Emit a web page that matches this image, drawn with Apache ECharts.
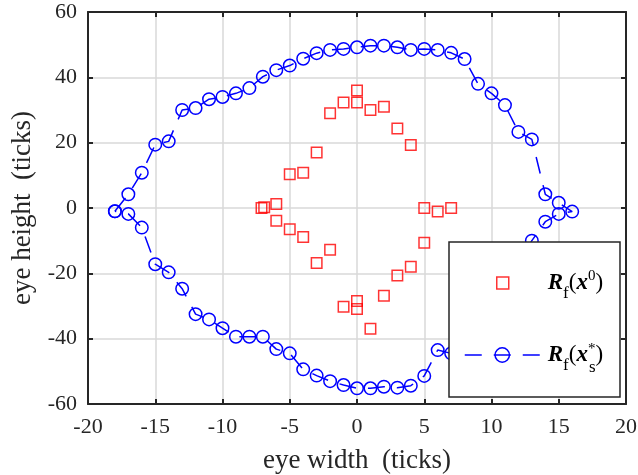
<!DOCTYPE html>
<html>
<head>
<meta charset="utf-8">
<script src="https://cdn.jsdelivr.net/npm/echarts@6/dist/echarts.min.js"></script>
<style>
html, body { margin: 0; padding: 0; background: #fff; }
#main { width: 638px; height: 475px; }
</style>
</head>
<body>
<div id="main"></div>
<script>
// eye contour R_f(x_s*): upper edge left -> right, then lower edge right -> left
var topX = [-18,-17,-16,-15,-14,-13,-12,-11,-10,-9,-8,-7,-6,-5,-4,-3,-2,-1,0,1,2,3,4,5,6,7,8,9,10,11,12,13,14,15,16];
var topY = [-1,4.2,10.8,19.4,20.4,30,30.6,33.3,34,35.1,36.7,40.2,42.2,43.6,45.7,47.4,48.4,48.7,49.2,49.7,49.7,49.2,48.4,48.7,48.4,47.5,45.6,38,35.1,31.5,23.3,21,4.2,1.6,-1.1];
var botX = [15,14,13,12,11,10,9,8,7,6,5,4,3,2,1,0,-1,-2,-3,-4,-5,-6,-7,-8,-9,-10,-11,-12,-13,-14,-15,-16,-17,-18];
var botY = [-1.8,-4.2,-10,-17,-24,-31,-36,-40,-44.5,-43.5,-51.4,-54.4,-55,-54.7,-55.2,-55.2,-54.2,-53,-51.3,-49.4,-44.5,-43.2,-39.4,-39.4,-39.4,-36.8,-34.1,-32.5,-24.7,-19.7,-17.2,-6,-1.8,-1];

// initial points R_f(x^0)
var sqX = [0,-1,0,-2,1,2,3,4,-3,-4,-5,-7.1,-6.9,-6,-6,-5,-4,-2,-3,-1,0,0,1,2,3,4,5,5,6,7];
var sqY = [36,32.3,32.3,29,30,31,24.3,19.3,17,10.8,10.3,0,0.2,1.2,-3.9,-6.5,-8.9,-12.8,-16.8,-30.2,-28.5,-30.9,-37,-26.9,-20.7,-18,-10.6,0,-1.1,0];

var xTicks = { min: -20, max: 20, step: 5 };
var yTicks = { min: -60, max: 60, step: 20 };

var serif = '"Liberation Serif", "Times New Roman", serif';
var dark = '#262626';

var eye = [];
for (var i = 0; i < topX.length; i++) eye.push([topX[i], topY[i]]);
for (var j = 0; j < botX.length; j++) eye.push([botX[j], botY[j]]);
var sq = [];
for (var k = 0; k < sqX.length; k++) sq.push([sqX[k], sqY[k]]);

function legendRich(lead) {
    return {
        R: { fontFamily: serif, fontSize: 23, fontWeight: 'bold', fontStyle: 'italic', color: '#000', lineHeight: 42, padding: [0, 0, 0, lead] },
        x: { fontFamily: serif, fontSize: 23, fontWeight: 'bold', fontStyle: 'italic', color: '#000', lineHeight: 42 },
        p: { fontFamily: serif, fontSize: 23, color: '#000', lineHeight: 42 },
        f: { fontFamily: serif, fontSize: 17, color: '#000', padding: [22, 0, 0, 0] },
        sup: { fontFamily: serif, fontSize: 15, color: '#000', padding: [0, 0, 13, 0] },
        star: { fontFamily: serif, fontSize: 15, color: '#000', padding: [0, 0, 11, 0], width: 1 },
        s: { fontFamily: serif, fontSize: 17, color: '#000', padding: [25, 0, 0, 0] }
    };
}

function mainAxis(t, name, gap, rot) {
    return {
        type: 'value', min: t.min, max: t.max, interval: t.step,
        name: name, nameLocation: 'middle', nameGap: gap, nameRotate: rot,
        nameTextStyle: { fontFamily: serif, fontSize: 27, color: dark },
        axisLine: { show: true, onZero: false, lineStyle: { color: dark, width: 2 } },
        axisTick: { show: true, inside: true, length: 5, lineStyle: { color: dark, width: 2 } },
        axisLabel: { fontFamily: serif, fontSize: 22, color: dark, margin: rot ? 11 : 12 },
        splitLine: { show: true, lineStyle: { color: '#d9d9d9', width: 1.5 } }
    };
}
function boxAxis(t, pos) {
    return {
        type: 'value', min: t.min, max: t.max, interval: t.step, position: pos,
        axisLine: { show: true, onZero: false, lineStyle: { color: dark, width: 2 } },
        axisTick: { show: true, inside: true, length: 5, lineStyle: { color: dark, width: 2 } },
        axisLabel: { show: false },
        splitLine: { show: false }
    };
}

var chart = echarts.init(document.getElementById('main'));
chart.setOption({
    animation: false,
    backgroundColor: '#fff',
    grid: { left: 88, right: 12, top: 12, bottom: 71, containLabel: false, outerBoundsMode: 'none' },
    xAxis: [mainAxis(xTicks, 'eye width  (ticks)', 43, 0), boxAxis(xTicks, 'top')],
    yAxis: [mainAxis(yTicks, 'eye height  (ticks)', 51, 90), boxAxis(yTicks, 'right')],
    graphic: [{
        type: 'rect', z: 5,
        shape: { x: 449, y: 242, width: 171, height: 155 },
        style: { fill: '#fff', stroke: dark, lineWidth: 1.5 }
    }],
    legend: [{
        data: ['init'], orient: 'vertical', left: 496, top: 269, padding: 0,
        itemWidth: 12, itemHeight: 12, selectedMode: false, z: 10,
        itemStyle: { color: 'rgba(0,0,0,0)', borderColor: '#ff0000', borderWidth: 1.5 },
        formatter: function () { return '{R|R}{f|f}{p|(}{x|x}{sup|0}{p|)}'; },
        textStyle: { rich: legendRich(34) }
    }, {
        data: ['opt'], orient: 'vertical', left: 464, top: 342, padding: 0,
        itemWidth: 75, itemHeight: 18, selectedMode: false, z: 10,
        itemStyle: { color: 'rgba(0,0,0,0)', borderColor: '#0000ff', borderWidth: 1.5 },
        lineStyle: { color: '#0000ff', width: 1.5, type: [17, 12] },
        formatter: function () { return '{R|R}{f|f}{p|(}{x|x}{star|*}{s|s}{p|)}'; },
        textStyle: { rich: legendRich(3) }
    }],
    series: [{
        name: 'init', type: 'scatter', data: sq,
        symbol: 'rect', symbolSize: 10.5,
        itemStyle: { color: 'rgba(0,0,0,0)', borderColor: '#ff0000', borderWidth: 1.5 },
        z: 3
    }, {
        name: 'opt', type: 'line', data: eye,
        symbol: 'circle', symbolSize: 12.5, showAllSymbol: true,
        lineStyle: { color: '#0000ff', width: 1.5, type: [17, 12] },
        itemStyle: { color: 'rgba(0,0,0,0)', borderColor: '#0000ff', borderWidth: 1.5 },
        z: 3
    }]
});
</script>
</body>
</html>
